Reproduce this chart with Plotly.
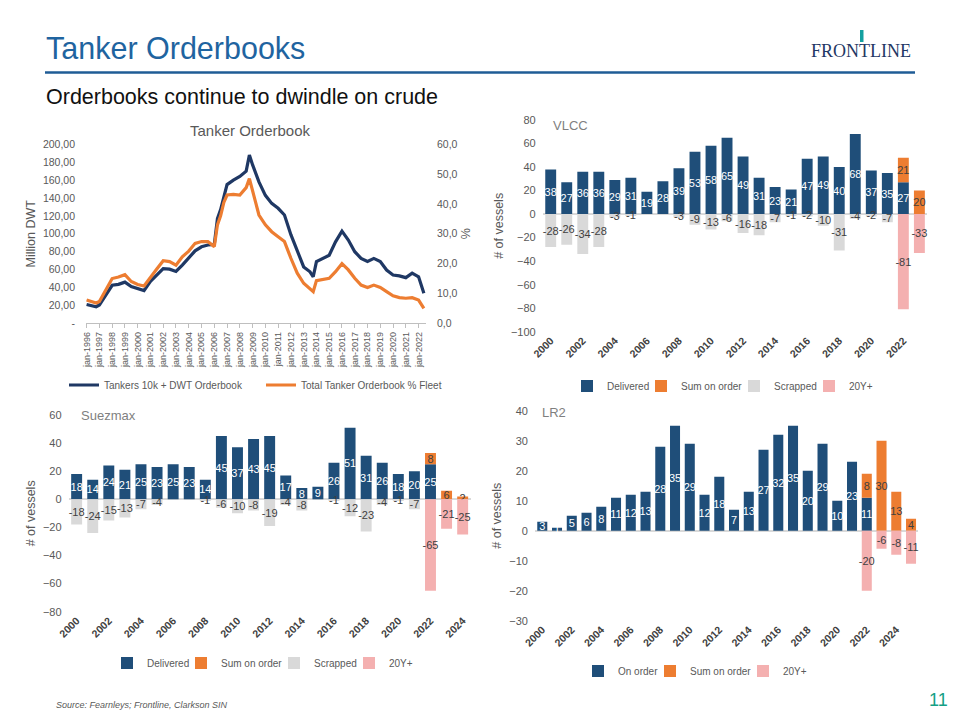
import plotly.graph_objects as go

# ---------------- Line chart data (Tanker Orderbook) ----------------
line_dates = ["1996-01-01", "1996-07-01", "1996-10-01", "1997-01-01", "1997-07-01",
              "1998-01-01", "1998-07-01", "1999-01-01", "1999-07-01", "2000-01-01",
              "2000-07-01", "2001-01-01", "2001-07-01", "2002-01-01", "2002-07-01",
              "2003-01-01", "2003-07-01", "2004-01-01", "2004-07-01", "2005-01-01",
              "2005-07-01", "2006-01-01", "2006-04-01", "2006-07-01", "2006-10-01",
              "2007-01-01", "2007-07-01", "2008-01-01", "2008-07-01", "2008-10-01",
              "2009-01-01", "2009-07-01", "2010-01-01", "2010-07-01", "2011-01-01",
              "2011-07-01", "2012-01-01", "2012-07-01", "2013-01-01", "2013-07-01",
              "2013-10-01", "2014-01-01", "2014-07-01", "2015-01-01", "2015-07-01",
              "2016-01-01", "2016-07-01", "2017-01-01", "2017-07-01", "2018-01-01",
              "2018-07-01", "2019-01-01", "2019-07-01", "2020-01-01", "2020-07-01",
              "2021-01-01", "2021-07-01", "2022-01-01", "2022-06-01"]
orderbook_dwt = [21, 19.5, 18.5, 20.5, 32, 42.5, 43.5, 46, 41, 39,
                 36.5, 47, 54, 61, 60.5, 58, 65, 72.5, 81, 85.5,
                 87.5, 88, 117, 127, 143, 155, 160, 164, 170, 188,
                 177, 158, 143, 134, 128.5, 121, 99, 80, 63, 57.5,
                 52, 69, 72, 76, 91, 103, 93, 80, 72.5, 69,
                 72.5, 69, 59.5, 54, 53, 51, 56, 52, 33.5]
orderbook_pct = [7.8, 7.0, 6.8, 7.3, 11.2, 15.0, 15.5, 16.3, 14.0, 13.0,
                 12.5, 15.6, 18.2, 21.0, 20.7, 19.5, 22.3, 24.2, 26.8, 27.4,
                 27.4, 25.7, 33, 36, 40.5, 43, 43.2, 43, 45.5, 48.5,
                 44.7, 36.3, 33, 30.7, 29, 27.4, 21.8, 16.8, 13.4, 11.7,
                 10.6, 14.3, 14.7, 15.1, 17.3, 20.0, 17.9, 15.1, 12.8, 12.0,
                 12.8, 12.0, 10.6, 9.2, 8.6, 8.4, 8.6, 7.8, 5.0]
line_tick_years = list(range(1996, 2023))
left_ticks = list(range(0, 201, 20))
right_ticks = list(range(0, 61, 10))

# ---------------- VLCC ----------------
vlcc_years = list(range(2000, 2024))
vlcc_delivered = [38, 27, 36, 36, 29, 31, 19, 28, 39, 53, 58, 65, 49, 31, 23, 21, 47, 49, 40, 68, 37, 35, 27, None]
vlcc_on_order = [None] * 22 + [21, 20]
vlcc_scrapped = [-28, -26, -34, -28, -3, -1, None, None, -3, -9, -13, -6, -16, -18, -7, -1, -2, -10, -31, -4, -2, -7, None, None]
vlcc_20y = [None] * 22 + [-81, -33]

# ---------------- Suezmax ----------------
suez_years = list(range(2000, 2025))
suez_delivered = [18, 14, 24, 21, 25, 23, 25, 23, 14, 45, 37, 43, 45, 17, 8, 9, 26, 51, 31, 26, 18, 20, 25, None, None]
suez_on_order = [None] * 22 + [8, 6, 2]
suez_scrapped = [-18, -24, -15, -13, -7, -4, None, None, -1, -6, -10, -8, -19, -4, -8, None, -1, -12, -23, -4, -1, -7, None, None, None]
suez_20y = [None] * 22 + [-65, -21, -25]

# ---------------- LR2 ----------------
lr2_years = list(range(2000, 2026))
lr2_on_order = [3, 1, 5, 6, 8, 11, 12, 13, 28, 35, 29, 12, 18, 7, 13, 27, 32, 35, 20, 29, 10, 23, 11, None, None, None]
lr2_sum_on_order = [None] * 22 + [8, 30, 13, 4]
lr2_20y = [None] * 22 + [-20, -6, -8, -11]

# ---------------- Styling ----------------
FONT = "Liberation Sans, Arial, sans-serif"
NAVY = "#1F4E79"
ORANGE = "#ED7D31"
GREY = "#D9D9D9"
PINK = "#F4B0B0"
LINE_BLUE = "#1F3864"
TXT = "#595959"
W, H = 960, 720
OFF = 8  # page body margin of the html page


def px(x):
    return (x - OFF) / W


def py(y):
    return 1 - (y - OFF) / H


fig = go.Figure()

# Line chart
fig.add_trace(go.Scatter(x=line_dates, y=orderbook_dwt, mode="lines", name="Tankers 10k + DWT Orderbook",
                         line=dict(color=LINE_BLUE, width=3.2), xaxis="x", yaxis="y", legend="legend"))
fig.add_trace(go.Scatter(x=line_dates, y=orderbook_pct, mode="lines", name="Total Tanker Orderbook % Fleet",
                         line=dict(color=ORANGE, width=3.2), xaxis="x", yaxis="y2", legend="legend2"))


def add_bars(xs, ys, name, color, txtcolor, xa, ya, lg):
    fig.add_trace(go.Bar(x=xs, y=ys, name=name, marker=dict(color=color, line=dict(width=0)),
                         width=0.68, text=[("" if v is None else str(v)) for v in ys],
                         textposition="inside", insidetextanchor="middle", textangle=0,
                         constraintext="none", cliponaxis=False,
                         textfont=dict(color=txtcolor, size=11, family=FONT),
                         xaxis=xa, yaxis=ya, legend=lg, hoverinfo="x+y"))


add_bars(vlcc_years, vlcc_delivered, "Delivered", NAVY, "white", "x3", "y3", "legend3")
add_bars(vlcc_years, vlcc_on_order, "Sum on order", ORANGE, "#404040", "x3", "y3", "legend4")
add_bars(vlcc_years, vlcc_scrapped, "Scrapped", GREY, "#404040", "x3", "y3", "legend5")
add_bars(vlcc_years, vlcc_20y, "20Y+", PINK, "#404040", "x3", "y3", "legend6")

add_bars(suez_years, suez_delivered, "Delivered", NAVY, "white", "x4", "y4", "legend7")
add_bars(suez_years, suez_on_order, "Sum on order", ORANGE, "#404040", "x4", "y4", "legend8")
add_bars(suez_years, suez_scrapped, "Scrapped", GREY, "#404040", "x4", "y4", "legend9")
add_bars(suez_years, suez_20y, "20Y+", PINK, "#404040", "x4", "y4", "legend10")

add_bars(lr2_years, lr2_on_order, "On order", NAVY, "white", "x5", "y5", "legend11")
add_bars(lr2_years, lr2_sum_on_order, "Sum on order", ORANGE, "#404040", "x5", "y5", "legend12")
add_bars(lr2_years, lr2_20y, "20Y+", PINK, "#404040", "x5", "y5", "legend13")

axis_font = dict(family=FONT, size=11, color=TXT)
year_font = dict(family=FONT, size=10.5, color="#404040")


def bar_xaxis(domain, years, anchor):
    return dict(domain=domain, anchor=anchor, range=[years[0] - 0.5, years[-1] + 0.5],
                tickmode="array", tickvals=[y for y in years if y % 2 == 0],
                ticktext=["<b>%d</b>" % y for y in years if y % 2 == 0],
                tickangle=-45, tickfont=year_font, showgrid=False, zeroline=False,
                showline=False, ticks="", automargin=False)


def bar_yaxis(domain, rng, dtick, anchor):
    return dict(domain=domain, anchor=anchor, range=rng, dtick=dtick, tick0=0,
                showgrid=False, zeroline=True, zerolinecolor=GREY, zerolinewidth=1.5,
                showline=False, ticks="", tickfont=axis_font, ticklabelstandoff=6,
                automargin=False,
                title=dict(text="# of vessels", font=dict(family=FONT, size=12.5, color=TXT), standoff=4))


legend_font = dict(family=FONT, size=10, color=TXT)


def leg(x, y):
    return dict(orientation="h", x=px(x), y=py(y), xanchor="left", yanchor="middle",
                font=legend_font, bgcolor="rgba(0,0,0,0)", borderwidth=0)


layout = dict(
    template="none",
    width=W, height=H, margin=dict(l=0, r=0, t=0, b=0, autoexpand=False),
    paper_bgcolor="white", plot_bgcolor="white",
    font=dict(family=FONT, color=TXT),
    barmode="relative", bargap=0.3,
    uniformtext=dict(minsize=11, mode="show"),
    showlegend=True,
    # line chart axes
    xaxis=dict(domain=[px(86), px(426)], anchor="y", type="date",
               range=["1995-12-15", "2022-08-01"],
               tickmode="array", tickvals=["%d-01-01" % y for y in line_tick_years],
               ticktext=["jan-%d" % y for y in line_tick_years],
               tickangle=-90, tickfont=dict(family=FONT, size=9, color=TXT),
               showline=True, linecolor="#BFBFBF", linewidth=1, ticks="outside",
               ticklen=4, tickcolor="#BFBFBF", showgrid=False, zeroline=False, automargin=False),
    yaxis=dict(domain=[py(323.3), py(144.3)], anchor="x", range=[0, 200],
               tickmode="array", tickvals=left_ticks,
               ticktext=["-" if v == 0 else ("%.2f" % v).replace(".", ",") for v in left_ticks],
               tickfont=dict(family=FONT, size=10.5, color=TXT), showgrid=False, zeroline=False,
               showline=False, ticks="", ticklabelstandoff=10, automargin=False,
               title=dict(text="Million DWT", font=dict(family=FONT, size=12.5, color=TXT), standoff=4)),
    yaxis2=dict(overlaying="y", side="right", anchor="x", range=[0, 60],
                tickmode="array", tickvals=right_ticks,
                ticktext=[("%.1f" % v).replace(".", ",") for v in right_ticks],
                tickfont=dict(family=FONT, size=10.5, color=TXT), showgrid=False, zeroline=False,
                showline=False, ticks="", ticklabelstandoff=10, automargin=False,
                title=dict(text="%", font=dict(family=FONT, size=12.5, color=TXT), standoff=4)),
    xaxis3=bar_xaxis([px(542.7), px(927.4)], vlcc_years, "y3"),
    yaxis3=bar_yaxis([py(331.7), py(120)], [-100, 80], 20, "x3"),
    xaxis4=bar_xaxis([px(68.6), px(470.7)], suez_years, "y4"),
    yaxis4=bar_yaxis([py(611.7), py(415)], [-80, 60], 20, "x4"),
    xaxis5=bar_xaxis([px(534.9), px(918.4)], lr2_years, "y5"),
    yaxis5=bar_yaxis([py(620.7), py(410.7)], [-30, 40], 10, "x5"),
    # legends: line chart
    legend=leg(64, 385),
    legend2=leg(261, 385),
    # VLCC
    legend3=leg(567, 386),
    legend4=leg(641, 386),
    legend5=leg(734, 386),
    legend6=leg(809, 386),
    # Suezmax
    legend7=leg(107, 663),
    legend8=leg(181, 663),
    legend9=leg(274, 663),
    legend10=leg(349, 663),
    # LR2
    legend11=leg(578, 671),
    legend12=leg(650, 671),
    legend13=leg(743, 671),
)
fig.update_layout(**layout)

annotations = [
    dict(text="Tanker Orderbooks", x=px(44), y=py(48), xanchor="left", yanchor="middle",
         font=dict(family=FONT, size=30.5, color="#1F64A0")),
    dict(text="Orderbooks continue to dwindle on crude", x=px(44), y=py(97), xanchor="left", yanchor="middle",
         font=dict(family=FONT, size=21.5, color="#111111")),
    dict(text="Tanker Orderbook", x=px(250), y=py(130), xanchor="center", yanchor="middle",
         font=dict(family=FONT, size=15, color=TXT)),
    dict(text="VLCC", x=px(551), y=py(126), xanchor="left", yanchor="middle",
         font=dict(family=FONT, size=13, color="#7F7F7F")),
    dict(text="Suezmax", x=px(79), y=py(415), xanchor="left", yanchor="middle",
         font=dict(family=FONT, size=13, color="#7F7F7F")),
    dict(text="LR2", x=px(540), y=py(412), xanchor="left", yanchor="middle",
         font=dict(family=FONT, size=13, color="#7F7F7F")),
    dict(text="<i>Source: Fearnleys; Frontline, Clarkson SIN</i>", x=px(54), y=py(705), xanchor="left",
         yanchor="middle", font=dict(family=FONT, size=9, color="#595959")),
    dict(text="11", x=px(938), y=py(700), xanchor="center", yanchor="middle",
         font=dict(family=FONT, size=18, color="#14A085")),
    dict(text="FRONTLINE", x=px(861), y=py(51), xanchor="center", yanchor="middle",
         font=dict(family="Liberation Serif, DejaVu Serif, serif", size=18, color="#1F3864")),
]
for a in annotations:
    a.update(xref="paper", yref="paper", showarrow=False)
fig.update_layout(annotations=annotations)

shapes = [
    dict(type="line", xref="paper", yref="paper", x0=px(45), x1=px(915), y0=py(72.5), y1=py(72.5),
         line=dict(color="#1F5C96", width=2.5)),
    dict(type="rect", xref="paper", yref="paper", x0=px(860), x1=px(863.5), y0=py(42), y1=py(30),
         fillcolor="#14A0A0", line=dict(width=0)),
]
fig.update_layout(shapes=shapes)

fig.write_html("out.html")
